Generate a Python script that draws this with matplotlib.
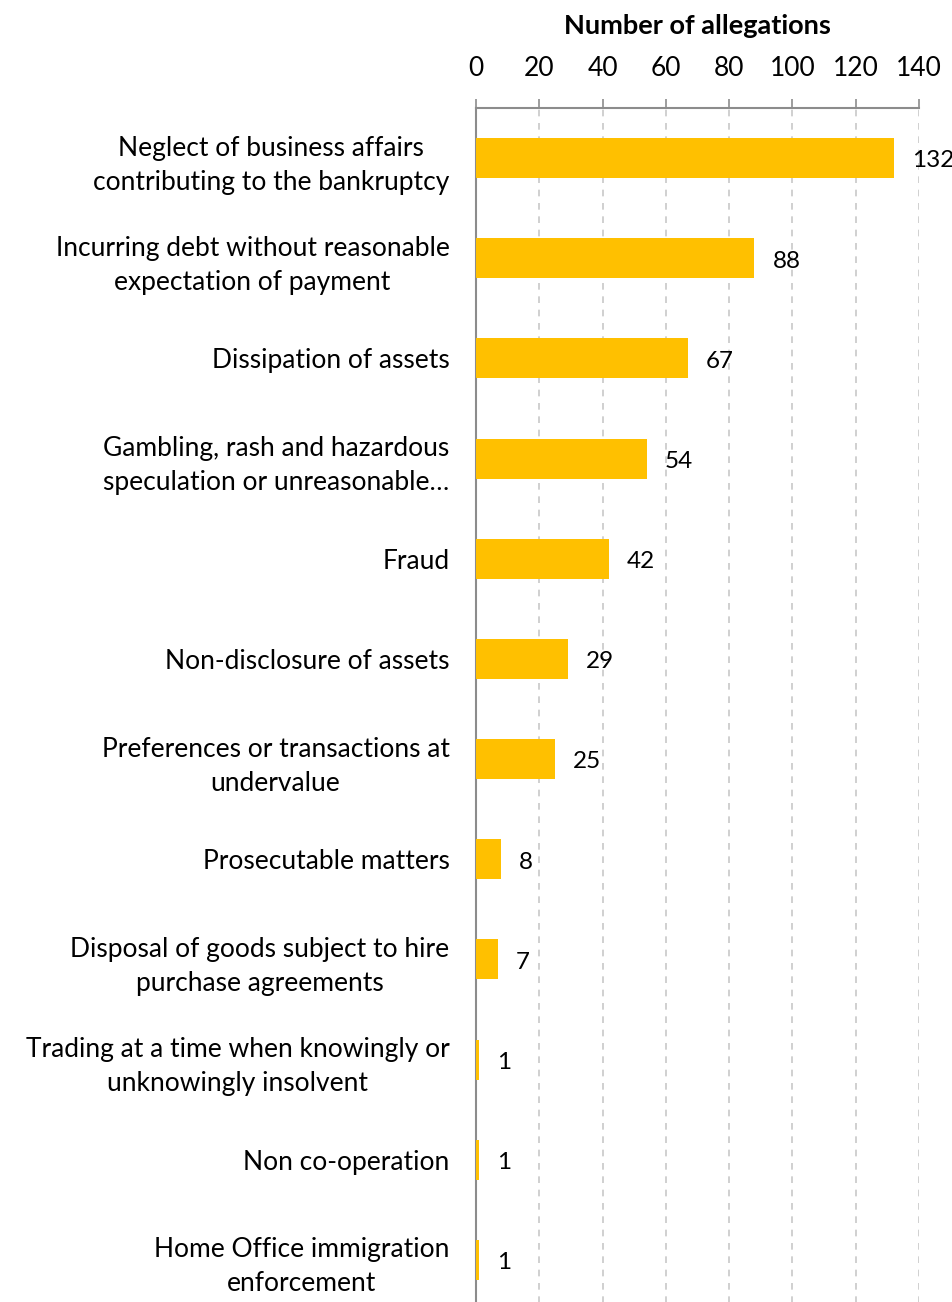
import matplotlib
matplotlib.use("Agg")
import matplotlib.pyplot as plt

plt.rcParams["font.family"] = ["Lato", "DejaVu Sans"]

CATEGORIES = [
    "Neglect of business affairs\ncontributing to the bankruptcy",
    "Incurring debt without reasonable\nexpectation of payment",
    "Dissipation of assets",
    "Gambling, rash and hazardous\nspeculation or unreasonable…",
    "Fraud",
    "Non-disclosure of assets",
    "Preferences or transactions at\nundervalue",
    "Prosecutable matters",
    "Disposal of goods subject to hire\npurchase agreements",
    "Trading at a time when knowingly or\nunknowingly insolvent",
    "Non co-operation",
    "Home Office immigration\nenforcement",
]
VALUES = [132, 88, 67, 54, 42, 29, 25, 8, 7, 1, 1, 1]
X_TICKS = [0, 20, 40, 60, 80, 100, 120, 140]

BAR_COLOR = "#FFC000"
AXIS_COLOR = "#8C8C8C"
GRID_COLOR = "#C8C8C8"

W, H = 952, 1302
fig = plt.figure(figsize=(W / 100, H / 100), dpi=100)
ax = fig.add_axes([476 / W, -8 / H, (919 - 476) / W, (1310 - 108) / H])

ypos = list(range(len(CATEGORIES)))
ax.barh(ypos, VALUES, height=0.4, color=BAR_COLOR, zorder=3)

ax.set_ylim(len(CATEGORIES) - 0.5, -0.5)
ax.set_xlim(0, 140)
ax.set_xticks(X_TICKS)
ax.xaxis.tick_top()
ax.xaxis.set_label_position("top")
ax.tick_params(axis="x", direction="out", length=6.5, width=1.2, color=AXIS_COLOR,
               labelsize=19, pad=13, labelcolor="black")
ax.set_xlabel("Number of allegations", fontsize=19.5, fontweight="bold", labelpad=16)

ax.set_yticks(ypos)
ax.set_yticklabels(CATEGORIES, fontsize=19, multialignment="center", linespacing=1.45)
ax.tick_params(axis="y", length=0, pad=19)

ax.xaxis.grid(True, linestyle=(0, (4, 4)), color=GRID_COLOR, linewidth=1.2, zorder=0)
ax.set_axisbelow(True)

for side in ["right", "bottom"]:
    ax.spines[side].set_visible(False)
for side in ["top", "left"]:
    ax.spines[side].set_color(AXIS_COLOR)
    ax.spines[side].set_linewidth(1.5)

for y, v in zip(ypos, VALUES):
    ax.annotate(str(v), (v, y), textcoords="offset points", xytext=(13, -2),
                va="center", ha="left", fontsize=17.5)

fig.savefig("out.png", dpi=100, facecolor="white")
